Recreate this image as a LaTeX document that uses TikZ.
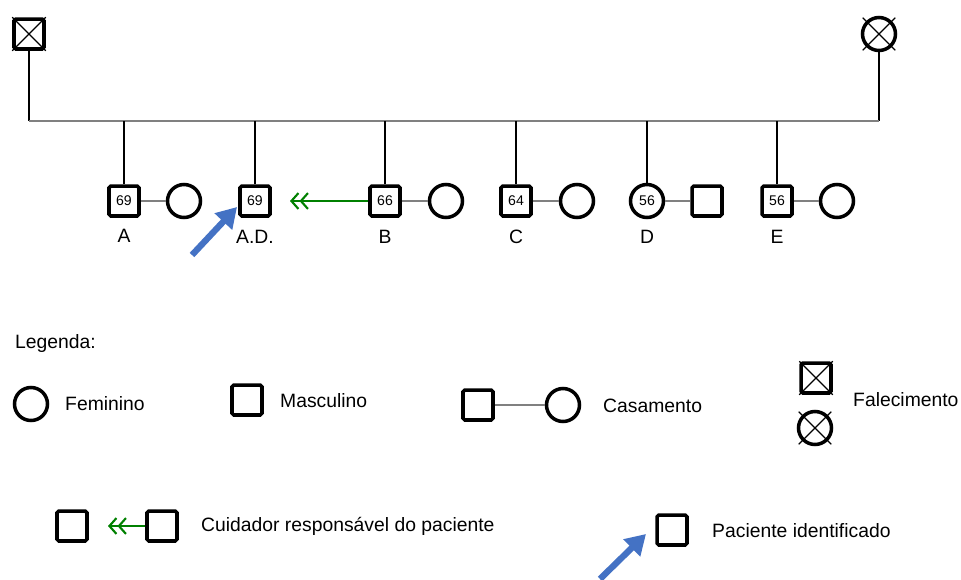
\documentclass[tikz,border=0pt]{standalone}
\usepackage{fontspec}
\setmainfont{Liberation Sans}
\usetikzlibrary{positioning,arrows.meta}
\definecolor{PatientBlue}{RGB}{68,114,196}
\definecolor{CarerGreen}{RGB}{0,128,0}
\definecolor{UnionGray}{RGB}{128,128,128}

\begin{document}
\begin{tikzpicture}[x=0.02cm, y=-0.02cm, every node/.style={font=\fontsize{11}{13}\selectfont}]
  \tikzset{
    male/.style={draw, line width=2pt, rounded corners=1pt, minimum size=0.6cm, inner sep=0pt, font=\fontsize{8}{9}\selectfont},
    female/.style={draw, circle, line width=2pt, minimum size=0.66cm, inner sep=0pt, font=\fontsize{8}{9}\selectfont},
    kin/.style={line width=0.8pt},
    union/.style={line width=0.8pt, UnionGray},
    cross/.style={line width=0.7pt},
    carer/.style={-{Straight Barb[length=4pt,width=9pt]Straight Barb[length=4pt,width=9pt]}, line width=1.2pt, CarerGreen},
    patient/.style={-{Triangle[length=0.4cm,width=0.46cm]}, line width=3.6pt, PatientBlue},
    legtext/.style={anchor=west}
  }
  \useasboundingbox (0,0) rectangle (961,579);
  % parents
  \node[male] (father) at (29,34) {};
  \draw[cross] (father.north west) -- (father.south east) (father.north east) -- (father.south west);
  \node[female] (mother) at (879,34) {};
  \draw[cross] ([shift={(45:0.46cm)}]mother.center) -- ([shift={(225:0.46cm)}]mother.center)
               ([shift={(135:0.46cm)}]mother.center) -- ([shift={(315:0.46cm)}]mother.center);
  \coordinate (sibl) at (29,121);
  \coordinate (sibr) at (879,121);
  \draw[kin] (father) -- (sibl);
  \draw[kin] (mother) -- (sibr);
  \draw[union] (sibl) -- (sibr);
  % children
  \node[male] (a) at (124,201) {69};
  \node[female] (aw) at (184,201) {};
  \node[male] (ad) at (255,201) {69};
  \node[male] (b) at (385,201) {66};
  \node[female] (bw) at (446,201) {};
  \node[male] (c) at (516,201) {64};
  \node[female] (cw) at (577,201) {};
  \node[female] (d) at (647,201) {56};
  \node[male] (dh) at (707,201) {};
  \node[male] (e) at (777,201) {56};
  \node[female] (ew) at (837,201) {};
  \foreach \k in {a,ad,b,c,e}
    \draw[kin] (\k.north) -- (\k.north |- sibl);
  \draw[kin] (d.north) -- (d.north |- sibl);
  \draw[union] (a) -- (aw);
  \draw[union] (b) -- (bw);
  \draw[union] (c) -- (cw);
  \draw[union] (d) -- (dh);
  \draw[union] (e) -- (ew);
  \node (la) at (124,236) {A};
  \node (lad) at (255,237) {A.D.};
  \node (lb) at (385,237) {B};
  \node (lc) at (516,237) {C};
  \node (ld) at (647,237) {D};
  \node (le) at (777,237) {E};
  \coordinate (carertip) at (290,201);
  \draw[carer] (b.west) -- (carertip);
  \coordinate (pfrom) at (192,255);
  \coordinate (pto) at (237,207);
  \draw[patient] (pfrom) -- (pto);
  % legend
  \node[legtext] (legenda) at (9,343) {Legenda:};
  \node[female] (kf) at (31,404) {};
  \node[legtext] (tf) at (59,404) {Feminino};
  \node[male] (km) at (247,400) {};
  \node[legtext] (tm) at (274,401) {Masculino};
  \node[male] (kc1) at (478,405) {};
  \node[female] (kc2) at (563,405) {};
  \draw[union] (kc1) -- (kc2);
  \node[legtext] (tc) at (597,406) {Casamento};
  \node[male] (kd1) at (816,378) {};
  \draw[cross] (kd1.north west) -- (kd1.south east) (kd1.north east) -- (kd1.south west);
  \node[female] (kd2) at (815,428) {};
  \draw[cross] ([shift={(45:0.46cm)}]kd2.center) -- ([shift={(225:0.46cm)}]kd2.center)
               ([shift={(135:0.46cm)}]kd2.center) -- ([shift={(315:0.46cm)}]kd2.center);
  \node[legtext] (td) at (847,400) {Falecimento};
  \node[male] (kr1) at (72,526) {};
  \node[male] (kr2) at (162,526) {};
  \coordinate (krtip) at (108,526);
  \draw[carer] (kr2.west) -- (krtip);
  \node[legtext] (tr) at (195,526) {Cuidador responsável do paciente};
  \node[male] (kp) at (672,530) {};
  \coordinate (kpfrom) at (600,579);
  \coordinate (kpto) at (646,534);
  \draw[patient] (kpfrom) -- (kpto);
  \node[legtext] (tp) at (706,531) {Paciente identificado};
\end{tikzpicture}
\end{document}
